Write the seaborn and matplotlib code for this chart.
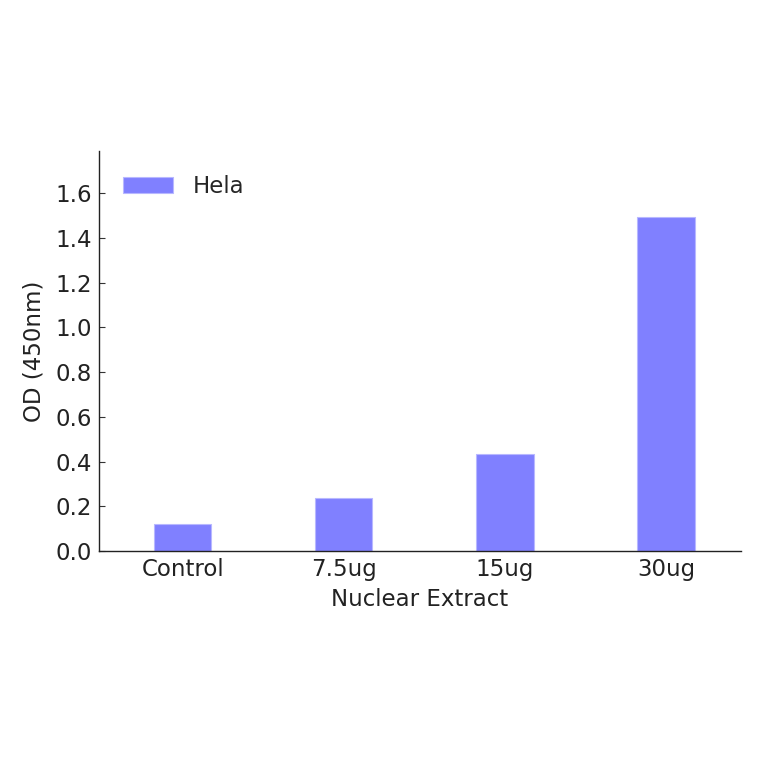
import matplotlib
matplotlib.use("Agg")
import matplotlib.pyplot as plt
import seaborn as sns
import pandas as pd

categories = ["Control", "7.5ug", "15ug", "30ug"]
od_values = [0.121, 0.236, 0.434, 1.494]
series_name = "Hela"
y_ticks = [0.0, 0.2, 0.4, 0.6, 0.8, 1.0, 1.2, 1.4, 1.6]

df = pd.DataFrame({"Nuclear Extract": categories, "OD": od_values, "Sample": series_name})

sns.set_theme(style="white")
plt.rcParams["font.family"] = ["DejaVu Sans"]

FS = 16.5

fig = plt.figure(figsize=(7.64, 7.64), dpi=100)
ax = fig.add_axes([0.1296, 0.2788, 0.8404, 0.5236])

sns.barplot(data=df, x="Nuclear Extract", y="OD", hue="Sample", ax=ax,
            palette=["#8080ff"], width=0.355, saturation=1.0,
            edgecolor="#b8b8ff", linewidth=0.8)

ax.set_ylim(0, 1.788)
ax.set_xlim(-0.52, 3.466)
ax.set_yticks(y_ticks)
ax.set_yticklabels([f"{t:.1f}" for t in y_ticks])
ax.set_xlabel("Nuclear Extract", fontsize=FS, labelpad=5)
ax.set_ylabel("OD (450nm)", fontsize=FS, labelpad=7)
ax.tick_params(axis="both", which="major", labelsize=FS, direction="in",
               length=4, width=0.8, color="#333333", labelcolor="#222222",
               bottom=True, left=True, top=False, right=False, pad=5)
for s in ["top", "right"]:
    ax.spines[s].set_visible(False)
for s in ["left", "bottom"]:
    ax.spines[s].set_color("#222222")
    ax.spines[s].set_linewidth(1.0)
ax.xaxis.label.set_color("#222222")
ax.yaxis.label.set_color("#222222")

leg = ax.legend(loc="upper left", frameon=False, fontsize=FS, handlelength=2.2,
                handleheight=0.74, handletextpad=0.83, borderaxespad=0.65)

fig.savefig("out.png", dpi=100, facecolor="white")
